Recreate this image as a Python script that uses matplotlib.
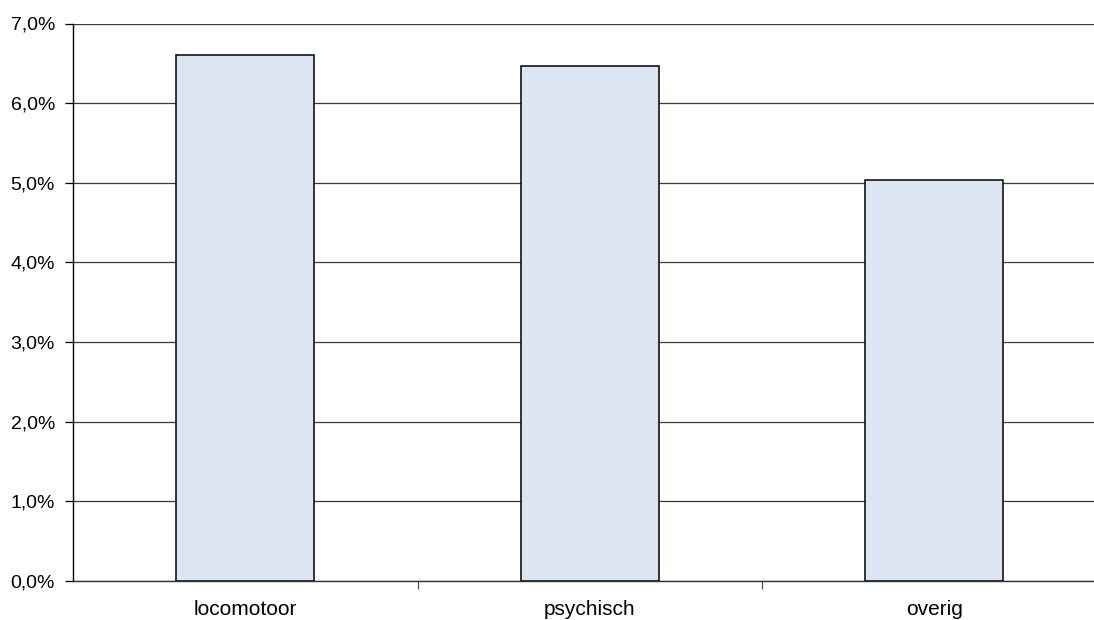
import numpy as np
import matplotlib.pyplot as plt
from matplotlib.ticker import FuncFormatter, FixedLocator

plt.rcParams['font.family'] = ['Liberation Sans', 'DejaVu Sans']

categories = ['locomotoor', 'psychisch', 'overig']
values = [6.60, 6.47, 5.04]   # percent

fig = plt.figure(figsize=(10.94, 6.2), dpi=100)
# axes runs off the right edge of the picture, like the original
left = 73 / 1094
right = 1106.5 / 1094
bottom = 1 - 581 / 620
top = 1 - 23.5 / 620
ax = fig.add_axes([left, bottom, right - left, top - bottom])

x = np.arange(len(categories))
ax.bar(x, values, width=0.4, color='#dce6f2', edgecolor='black', linewidth=1.1, zorder=3)

ax.set_xlim(-0.5, len(categories) - 0.5)
ax.set_ylim(0, 7)
ax.set_yticks(np.arange(0, 8, 1))
ax.yaxis.set_major_formatter(FuncFormatter(lambda v, p: '{:.1f}%'.format(v).replace('.', ',')))
ax.yaxis.grid(True, color='#3a3a3a', linewidth=0.9, zorder=0)

# category labels between boundary ticks
ax.xaxis.set_major_locator(FixedLocator([0.5, 1.5]))
ax.xaxis.set_major_formatter(FuncFormatter(lambda v, p: ''))
ax.xaxis.set_minor_locator(FixedLocator(x))
ax.set_xticklabels(categories, minor=True)
ax.tick_params(axis='x', which='major', direction='out', length=6, width=0.9, color='#555555')
ax.tick_params(axis='x', which='minor', length=0, pad=14, labelsize=15)
ax.tick_params(axis='y', direction='out', length=6, width=0.9, labelsize=14, pad=7)

for s in ['top', 'right']:
    ax.spines[s].set_visible(False)
ax.spines['left'].set_linewidth(1.0)
ax.spines['bottom'].set_linewidth(1.0)
ax.spines['bottom'].set_color('#333333')

fig.savefig('out.png', dpi=100)
